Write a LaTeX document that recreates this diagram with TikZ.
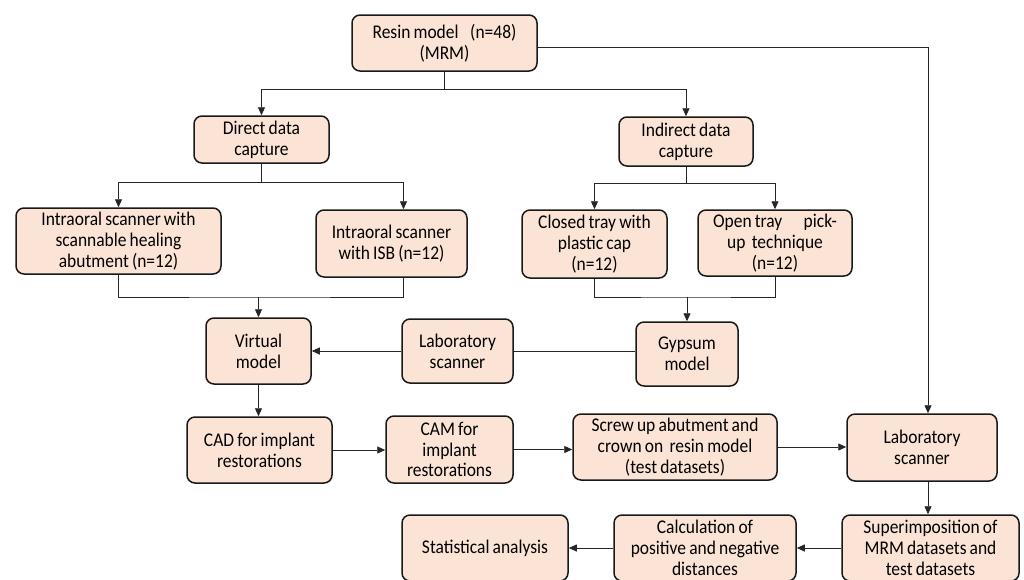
\documentclass[tikz,border=0pt]{standalone}
\usepackage{fontspec}
\setmainfont{Carlito}[WordSpace=0.8, FakeStretch=0.9]
\usetikzlibrary{arrows.meta}
\definecolor{peach}{HTML}{FBE4D5}
\tikzset{
  stage/.style={draw=black!90, fill=peach, line width=1.5pt, rounded corners=8pt,
    align=center, inner sep=0pt, font=\fontsize{19.4}{20.8}\selectfont},
  link/.style={line width=0.9pt, draw=black!85},
  flow/.style={link, -{Triangle[length=8pt,width=7pt]}}
}
\begin{document}
\begin{tikzpicture}[x=1pt,y=-1pt]
\useasboundingbox (0,0) rectangle (1024,579);
% boxes
\node[stage, minimum width=185pt, minimum height=56pt] (resin) at (444.5,43) {Resin model\hspace{0.6em}(n=48)\\(MRM)};
\node[stage, minimum width=135pt, minimum height=47pt] (direct) at (261.5,139.5) {Direct data\\capture};
\node[stage, minimum width=134pt, minimum height=49pt] (indirect) at (686,141.5) {Indirect data\\capture};
\node[stage, minimum width=205pt, minimum height=66pt] (iosheal) at (118.5,241) {Intraoral scanner with\\scannable healing\\abutment (n=12)};
\node[stage, minimum width=151pt, minimum height=67pt] (iosisb) at (391.5,243.5) {Intraoral scanner\\with ISB (n=12)};
\node[stage, minimum width=145pt, minimum height=68pt] (closed) at (594.5,244) {Closed tray with\\plastic cap\\(n=12)};
\node[stage, minimum width=154pt, minimum height=66pt] (opentray) at (775,243) {Open tray\hspace{1.1em}pick-\\up\ \ technique\\(n=12)};
\node[stage, minimum width=105pt, minimum height=66pt] (virtual) at (258.5,351) {Virtual\\model};
\node[stage, minimum width=111pt, minimum height=64pt] (labmid) at (457.5,351) {Laboratory\\scanner};
\node[stage, minimum width=102pt, minimum height=64pt] (gypsum) at (687,354) {Gypsum\\model};
\node[stage, minimum width=145pt, minimum height=66pt] (cad) at (259.5,450) {CAD for implant\\restorations};
\node[stage, minimum width=127pt, minimum height=67pt] (cam) at (449.5,449.5) {CAM for\\implant\\restorations};
\node[stage, minimum width=204pt, minimum height=66pt] (screw) at (675,447) {Screw up abutment and\\crown on\ \ resin model\\(test datasets)};
\node[stage, minimum width=150pt, minimum height=67pt] (labright) at (922,447.5) {Laboratory\\scanner};
\node[stage, minimum width=177pt, minimum height=66pt] (superimp) at (930.5,548) {Superimposition of\\MRM datasets and\\test datasets};
\node[stage, minimum width=182pt, minimum height=66pt] (calc) at (705,548) {Calculation of\\positive and negative\\distances};
\node[stage, minimum width=166pt, minimum height=66pt] (stats) at (485,548) {Statistical analysis};
% junctions
\coordinate (topsplit) at (444.5,89);
\coordinate (dsplit) at (261.5,182);
\coordinate (isplit) at (686,183);
\coordinate (dmerge) at (258.5,297);
\coordinate (imerge) at (687,297);
% connectors
\draw[link] (resin.south) -- (topsplit);
\draw[flow] (topsplit) -| (direct.north);
\draw[flow] (topsplit) -| (indirect.north);
\draw[flow] ([yshift=-4pt]resin.east) -| ([xshift=6pt]labright.north);
\draw[link] (direct.south) -- (dsplit);
\draw[flow] (dsplit) -| (iosheal.north);
\draw[flow] (dsplit) -| ([xshift=12pt]iosisb.north);
\draw[link] (indirect.south) -- (isplit);
\draw[flow] (isplit) -| (closed.north);
\draw[flow] (isplit) -| (opentray.north);
\draw[link] (iosheal.south) |- (dmerge) -| ([xshift=12pt]iosisb.south);
\draw[flow] (dmerge) -- (virtual.north);
\draw[link] (closed.south) |- (imerge) -| (opentray.south);
\draw[flow] (imerge) -- (gypsum.north);
\draw[link] (labmid.east) -- (labmid.east -| gypsum.west);
\draw[flow] (labmid.west) -- (labmid.west -| virtual.east);
\draw[flow] (virtual.south) -- (virtual.south |- cad.north);
\draw[flow] (cad.east) -- (cad.east -| cam.west);
\draw[flow] (cam.east) -- (cam.east -| screw.west);
\draw[flow] (screw.east) -- (screw.east -| labright.west);
\draw[flow] ([xshift=6pt]labright.south) -- ([xshift=6pt]labright.south |- superimp.north);
\draw[flow] (superimp.west) -- (superimp.west -| calc.east);
\draw[flow] (calc.west) -- (calc.west -| stats.east);
\end{tikzpicture}
\end{document}
